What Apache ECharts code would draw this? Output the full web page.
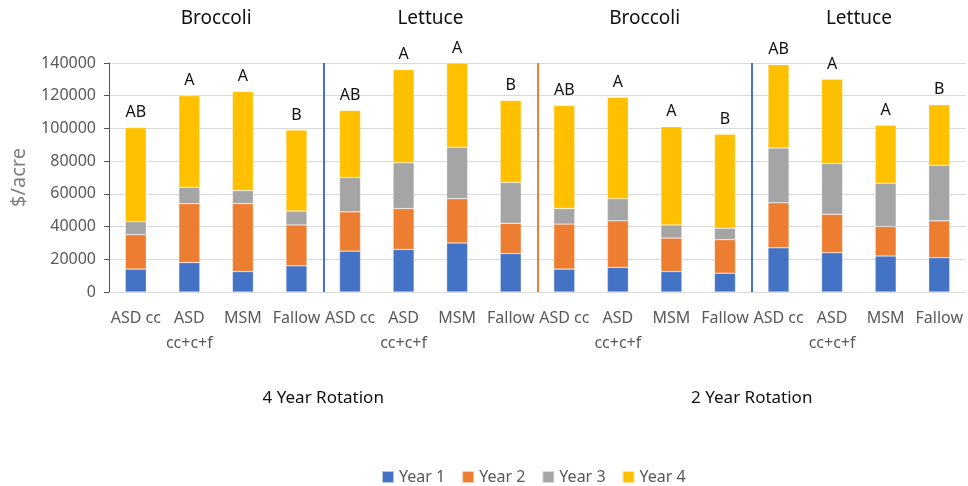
<!DOCTYPE html>
<html>
<head>
<meta charset="utf-8">
<script src="https://cdn.jsdelivr.net/npm/echarts@6/dist/echarts.min.js"></script>
<style>
  html, body { margin: 0; padding: 0; background: #fff; }
  #chart { width: 968px; height: 486px; }
</style>
</head>
<body>
<div id="chart"></div>
<script>
// categories (x axis)
const treatments = ['ASD cc', 'ASD\ncc+c+f', 'MSM', 'Fallow',
  'ASD cc', 'ASD\ncc+c+f', 'MSM', 'Fallow',
  'ASD cc', 'ASD\ncc+c+f', 'MSM', 'Fallow',
  'ASD cc', 'ASD\ncc+c+f', 'MSM', 'Fallow']
const crops = ['Broccoli', 'Lettuce', 'Broccoli', 'Lettuce']
const rotations = ['4 Year Rotation', '2 Year Rotation']

// $/acre per year (stacked)
const year1 = [14000, 18000, 12500, 16000, 25000, 26000, 30000, 23500, 14000, 15000, 12500, 11500, 27000, 24000, 22000, 21000]
const year2 = [21000, 36000, 41500, 25000, 24000, 25000, 27000, 18500, 27500, 28500, 20500, 20500, 27500, 23500, 18000, 22500]
const year3 = [8000, 10000, 8000, 8500, 21000, 28000, 31500, 25000, 9500, 13500, 8000, 7000, 33500, 31000, 26500, 34000]
const year4 = [57500, 56000, 60500, 49500, 41000, 57000, 51500, 50000, 63000, 62000, 60000, 57500, 51000, 51500, 35500, 37000]

// significance letters above each bar
const letters = ['AB', 'A', 'A', 'B', 'AB', 'A', 'A', 'B', 'AB', 'A', 'A', 'B', 'AB', 'A', 'A', 'B']

// separators between groups (position in bar slots) and their colours
const separators = [4, 8, 12]
const separatorColors = ['#4472C4', '#ED7D31', '#4472C4']

const chart = echarts.init(document.getElementById('chart'))
const font = 'Noto Sans, DejaVu Sans, sans-serif'

const barSeries = (name, data, color) => ({
  name,
  type: 'bar',
  stack: 'total',
  data,
  barWidth: 21,
  itemStyle: { color, borderColor: 'rgba(255,255,255,0.6)', borderWidth: 0.5 },
  xAxisIndex: 0,
})

const topSeries = barSeries('Year 4', year4, '#FFC000')
topSeries.label = {
  show: true,
  position: 'top',
  distance: 7,
  color: '#111',
  fontSize: 16,
  fontFamily: font,
  formatter: (p) => letters[p.dataIndex],
}

const option = {
  animation: false,
  textStyle: { fontFamily: font },
  grid: { left: 109, right: 2, top: 63, bottom: 194 },
  legend: {
    data: ['Year 1', 'Year 2', 'Year 3', 'Year 4'],
    bottom: -4,
    left: 376,
    icon: 'rect',
    itemWidth: 12,
    itemHeight: 12,
    itemGap: 16,
    textStyle: { color: '#595959', fontSize: 16, fontFamily: font },
  },
  xAxis: [
    {
      type: 'category',
      data: treatments,
      axisTick: { show: false },
      axisLine: { lineStyle: { color: '#d9d9d9' } },
      axisLabel: { interval: 0, color: '#595959', fontSize: 16, margin: 14, lineHeight: 25, fontFamily: font },
    },
    {
      type: 'value',
      min: 0,
      max: 16,
      show: false,
    },
    {
      type: 'category',
      position: 'top',
      data: crops,
      axisLine: { show: false },
      axisTick: { show: false },
      axisLabel: { color: '#111', fontSize: 19, margin: 35, fontFamily: font },
    },
    {
      type: 'category',
      position: 'bottom',
      data: rotations,
      axisLine: { show: false },
      axisTick: { show: false },
      axisLabel: { color: '#111', fontSize: 17, margin: 98, fontFamily: font },
    },
  ],
  yAxis: {
    type: 'value',
    min: 0,
    max: 140000,
    interval: 20000,
    name: '$/acre',
    nameLocation: 'middle',
    nameGap: 80,
    nameTextStyle: { color: '#7f7f7f', fontSize: 20, fontFamily: font },
    axisLabel: { color: '#595959', fontSize: 16, margin: 13, fontFamily: font, formatter: (v) => String(v) },
    splitLine: { lineStyle: { color: '#d9d9d9' } },
  },
  series: [
    barSeries('Year 1', year1, '#4472C4'),
    barSeries('Year 2', year2, '#ED7D31'),
    barSeries('Year 3', year3, '#A5A5A5'),
    topSeries,
    {
      name: 'separators',
      type: 'line',
      xAxisIndex: 1,
      data: [],
      silent: true,
      markLine: {
        symbol: 'none',
        silent: true,
        label: { show: false },
        data: separators.map((x, i) => ({ xAxis: x, lineStyle: { color: separatorColors[i], width: 2, type: 'solid' } })),
      },
    },
  ],
}

chart.setOption(option)
window.addEventListener('resize', () => chart.resize())
</script>
</body>
</html>
